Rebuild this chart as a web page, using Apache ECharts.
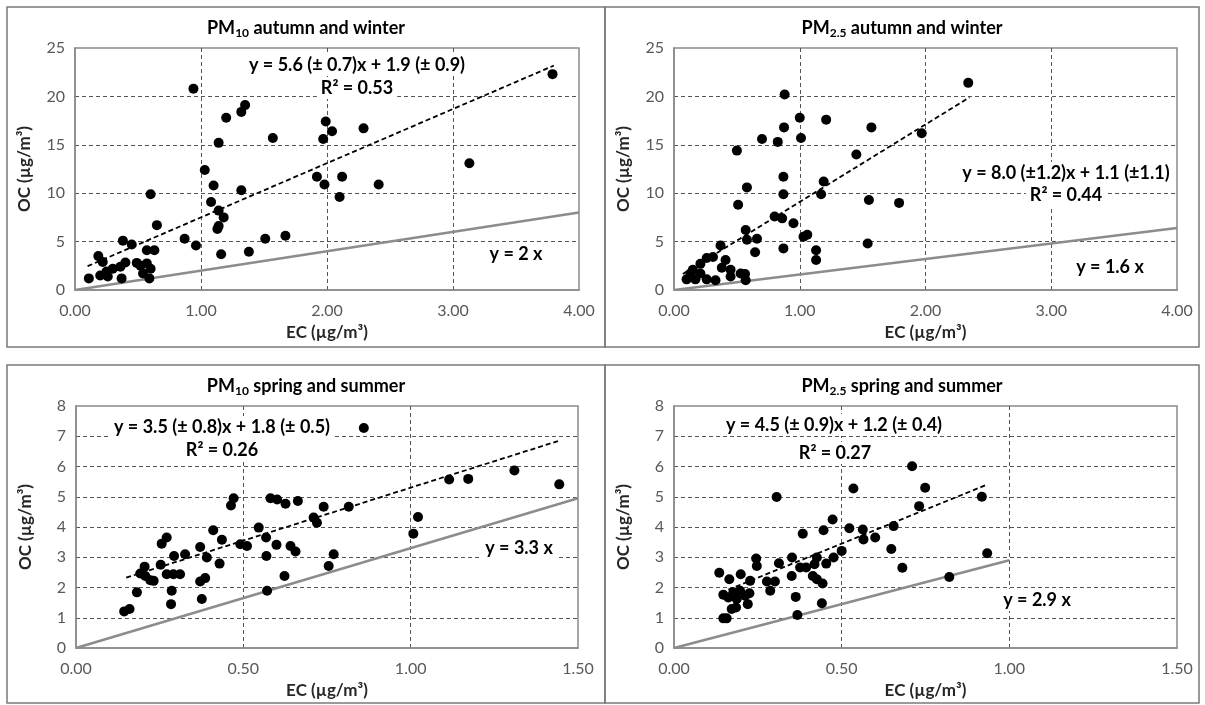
<!DOCTYPE html>
<html>
<head>
<meta charset="utf-8">
<script src="https://cdn.jsdelivr.net/npm/echarts@6/dist/echarts.min.js"></script>
<style>
  html, body { margin: 0; padding: 0; background: #fff; }
  #chart { width: 1205px; height: 705px; }
</style>
</head>
<body>
<div id="chart"></div>
<script>
// Paired EC / OC concentrations, [EC, OC] in µg/m³
const pm10AutumnWinter = [
  [0.94,20.8],[1.35,19.1],[1.32,18.4],[1.20,17.8],[1.57,15.7],[1.14,15.2],[1.03,12.4],[1.10,10.8],
  [1.32,10.3],[0.60,9.9],[1.08,9.1],[1.14,8.2],[1.18,7.5],[0.65,6.7],[1.13,6.3],[1.14,6.6],
  [0.87,5.3],[0.96,4.6],[1.51,5.3],[1.67,5.6],[1.16,3.7],[1.38,3.95],[0.38,5.1],[0.45,4.7],
  [0.57,4.1],[0.63,4.1],[0.185,3.5],[0.22,2.9],[0.40,2.85],[0.36,2.4],[0.30,2.2],[0.25,1.9],
  [0.26,1.4],[0.20,1.5],[0.11,1.2],[0.37,1.2],[0.49,2.8],[0.52,2.5],[0.57,2.75],[0.60,2.2],
  [0.54,1.7],[0.59,1.2],[3.79,22.3],[1.99,17.4],[2.04,16.4],[1.97,15.6],[2.29,16.7],[3.13,13.1],
  [1.92,11.7],[2.12,11.7],[1.98,10.9],[2.41,10.9],[2.10,9.6]
];
const pm25AutumnWinter = [
  [0.88,20.2],[1.00,17.8],[1.21,17.6],[0.875,16.8],[0.70,15.6],[0.825,15.3],[1.01,15.7],[1.57,16.8],
  [1.45,14.0],[0.50,14.4],[0.87,11.7],[1.19,11.2],[0.58,10.6],[0.87,9.9],[1.17,9.9],[1.55,9.3],
  [0.51,8.8],[0.80,7.6],[0.86,7.4],[0.95,6.9],[0.57,6.2],[0.58,5.2],[0.66,5.3],[1.03,5.5],
  [1.06,5.7],[0.645,3.9],[0.87,4.3],[1.13,4.1],[1.13,3.1],[1.54,4.8],[0.37,4.6],[0.31,3.4],
  [0.26,3.3],[0.21,2.7],[0.15,2.1],[0.10,1.1],[0.17,1.1],[0.26,1.1],[0.33,1.0],[0.41,3.1],
  [0.38,2.3],[0.45,2.1],[0.45,1.4],[0.53,1.7],[0.565,1.65],[0.57,1.0],[0.21,1.7],[0.13,1.7],
  [2.34,21.4],[1.97,16.2],[1.79,9.0]
];
const pm10SpringSummer = [
  [0.471,4.95],[0.463,4.71],[0.581,4.95],[0.601,4.91],[0.626,4.77],[0.663,4.86],[0.74,4.67],[0.815,4.67],
  [0.71,4.31],[0.72,4.14],[0.41,3.89],[0.546,3.98],[0.271,3.65],[0.256,3.45],[0.436,3.58],[0.491,3.43],
  [0.511,3.37],[0.568,3.65],[0.599,3.41],[0.371,3.34],[0.391,2.99],[0.429,2.79],[0.293,3.04],[0.326,3.10],
  [0.569,3.04],[0.641,3.37],[0.656,3.19],[0.253,2.75],[0.205,2.69],[0.192,2.46],[0.207,2.38],[0.222,2.24],
  [0.232,2.22],[0.271,2.44],[0.291,2.44],[0.311,2.44],[0.371,2.20],[0.386,2.31],[0.623,2.38],[0.182,1.84],
  [0.286,1.89],[0.571,1.89],[0.144,1.21],[0.160,1.29],[0.284,1.45],[0.376,1.62],[0.86,7.27],[1.115,5.57],
  [1.172,5.59],[1.31,5.87],[1.444,5.41],[1.022,4.33],[1.008,3.78],[0.77,3.10],[0.755,2.71]
];
const pm25SpringSummer = [
  [0.306,4.99],[0.535,5.27],[0.473,4.25],[0.446,3.89],[0.384,3.78],[0.523,3.96],[0.563,3.92],[0.565,3.59],
  [0.60,3.65],[0.50,3.21],[0.426,2.99],[0.419,2.77],[0.476,2.99],[0.454,2.79],[0.352,2.99],[0.313,2.80],
  [0.245,2.96],[0.247,2.71],[0.376,2.66],[0.394,2.66],[0.351,2.38],[0.414,2.38],[0.426,2.27],[0.443,2.13],
  [0.277,2.20],[0.301,2.20],[0.287,1.89],[0.135,2.49],[0.165,2.27],[0.199,2.44],[0.227,2.22],[0.147,1.76],
  [0.162,1.67],[0.177,1.84],[0.187,1.62],[0.197,1.89],[0.212,1.73],[0.225,1.81],[0.22,1.45],[0.172,1.29],
  [0.185,1.34],[0.147,0.98],[0.157,0.98],[0.363,1.69],[0.368,1.09],[0.441,1.48],[0.71,6.01],[0.749,5.30],
  [0.918,5.0],[0.731,4.69],[0.655,4.03],[0.648,3.27],[0.681,2.65],[0.934,3.13],[0.821,2.35]
];

// Least-squares fits (slope, intercept) and the EC span each fit is drawn over
const fitSlope = [5.6, 8.0, 3.5, 4.5];
const fitIntercept = [1.9, 1.1, 1.8, 1.2];
const fitSpan = [[0.1, 3.8], [0.07, 2.35], [0.15, 1.44], [0.14, 0.93]];
const fitLabels = [
  'y = 5.6 (± 0.7)x + 1.9 (± 0.9)',
  'y = 8.0 (±1.2)x + 1.1 (±1.1)',
  'y = 3.5 (± 0.8)x + 1.8 (± 0.5)',
  'y = 4.5 (± 0.9)x + 1.2 (± 0.4)'
];
const r2Labels = ['R² = 0.53', 'R² = 0.44', 'R² = 0.26', 'R² = 0.27'];

// Minimum OC/EC ratio lines
const ratioSlope = [2, 1.6, 3.3, 2.9];
const ratioSpan = [[0, 4], [0, 4], [0, 1.5], [0, 1.0]];
const ratioLabels = ['y = 2 x', 'y = 1.6 x', 'y = 3.3 x', 'y = 2.9 x'];

// Panel titles and axis ranges
const sizeFraction = ['10', '2.5', '10', '2.5'];
const seasonNames = ['autumn and winter', 'autumn and winter', 'spring and summer', 'spring and summer'];
const xMax = [4, 4, 1.5, 1.5];
const xStep = [1, 1, 0.5, 0.5];
const yMax = [25, 25, 8, 8];
const yStep = [5, 5, 1, 1];
const xName = 'EC (µg/m³)';
const yName = 'OC (µg/m³)';

const datasets = [pm10AutumnWinter, pm25AutumnWinter, pm10SpringSummer, pm25SpringSummer];

// Layout of the four panels
const FONT = 'Lato, "Liberation Sans", sans-serif';
const grids = [
  { left: 75, top: 48, width: 504, height: 242 },
  { left: 674, top: 48, width: 503, height: 242 },
  { left: 76, top: 406, width: 502, height: 242 },
  { left: 674, top: 406, width: 503, height: 242 }
];
const frames = [
  { x: 7, y: 7, width: 598, height: 340 },
  { x: 605, y: 7, width: 594, height: 340 },
  { x: 7, y: 365, width: 598, height: 338 },
  { x: 605, y: 365, width: 594, height: 338 }
];
const titlePos = [[306, 28], [902, 28], [306, 386], [902, 386]];
const fitPos = [[357, 65], [1066, 173], [222, 427], [834, 425]];
const r2Pos = [[357, 88], [1066, 195], [222, 450], [835, 453]];
const ratioPos = [[516, 254], [1110, 267], [519, 548], [1037, 600]];

const GRID_LINE = { color: '#555', width: 1, type: [4, 3] };
const BORDER = '#8a8a8a';

const xAxes = [], yAxes = [], series = [], graphics = [];

for (let i = 0; i < 4; i++) {
  xAxes.push({
    type: 'value', gridIndex: i, min: 0, max: xMax[i], interval: xStep[i],
    name: xName, nameLocation: 'middle', nameGap: 34,
    nameTextStyle: { fontFamily: FONT, fontSize: 17, fontWeight: 'bold', color: '#262626' },
    axisLine: { show: true, onZero: false, lineStyle: { color: BORDER, width: 1.5 } },
    axisTick: { show: false },
    axisLabel: { fontFamily: FONT, fontSize: 16, color: '#595959', margin: 13,
      formatter: v => v.toFixed(2) },
    splitLine: { show: true, showMinLine: false, showMaxLine: false, lineStyle: GRID_LINE }
  });
  yAxes.push({
    type: 'value', gridIndex: i, min: 0, max: yMax[i], interval: yStep[i],
    name: yName, nameLocation: 'middle', nameGap: 42,
    nameTextStyle: { fontFamily: FONT, fontSize: 17, fontWeight: 'bold', color: '#262626' },
    axisLine: { show: true, onZero: false, lineStyle: { color: BORDER, width: 1.5 } },
    axisTick: { show: false },
    axisLabel: { fontFamily: FONT, fontSize: 16, color: '#595959', margin: 10 },
    splitLine: { show: true, showMinLine: false, showMaxLine: false, lineStyle: GRID_LINE }
  });

  // OC/EC ratio line (solid grey)
  series.push({
    type: 'line', xAxisIndex: i, yAxisIndex: i, symbol: 'none', silent: true, z: 3,
    lineStyle: { color: '#8c8c8c', width: 2.5 },
    data: ratioSpan[i].map(x => [x, ratioSlope[i] * x])
  });
  // Regression line (black dashed)
  series.push({
    type: 'line', xAxisIndex: i, yAxisIndex: i, symbol: 'none', silent: true, z: 4,
    lineStyle: { color: '#000', width: 1.8, type: [5, 3] },
    data: fitSpan[i].map(x => [x, fitSlope[i] * x + fitIntercept[i]])
  });
  // Measurements
  series.push({
    type: 'scatter', xAxisIndex: i, yAxisIndex: i, z: 5,
    symbol: 'circle', symbolSize: 10,
    itemStyle: { color: '#000', opacity: 1 },
    data: datasets[i]
  });

  graphics.push({
    type: 'rect', shape: frames[i], z: 1, silent: true,
    style: { fill: null, stroke: '#7a7a7a', lineWidth: 1.5 }
  });
  graphics.push({
    type: 'text', x: titlePos[i][0], y: titlePos[i][1], z: 1,
    style: {
      text: '{a|PM}{s|' + sizeFraction[i] + '}{a| ' + seasonNames[i] + '}',
      align: 'center', verticalAlign: 'middle',
      rich: {
        a: { fontFamily: FONT, fontSize: 18, fontWeight: 'bold', fill: '#000', lineHeight: 22 },
        s: { fontFamily: FONT, fontSize: 12, fontWeight: 'bold', fill: '#000', lineHeight: 12, verticalAlign: 'bottom' }
      }
    }
  });
  const labelStyle = (txt, p) => ({
    type: 'text', x: p[0], y: p[1], z: 1,
    style: {
      text: txt, align: 'center', verticalAlign: 'middle',
      fontFamily: FONT, fontSize: 18, fontWeight: 'bold', fill: '#000',
      backgroundColor: '#fff', padding: [2, 4]
    }
  });
  graphics.push(labelStyle(fitLabels[i], fitPos[i]));
  graphics.push(labelStyle(r2Labels[i], r2Pos[i]));
  graphics.push(labelStyle(ratioLabels[i], ratioPos[i]));
}

const chart = echarts.init(document.getElementById('chart'), null, { renderer: 'canvas' });
chart.setOption({
  backgroundColor: '#fff',
  animation: false,
  grid: grids.map(g => Object.assign({ show: true, borderColor: BORDER, borderWidth: 1.5, backgroundColor: 'transparent' }, g)),
  xAxis: xAxes,
  yAxis: yAxes,
  series: series,
  graphic: { elements: graphics }
});
</script>
</body>
</html>
